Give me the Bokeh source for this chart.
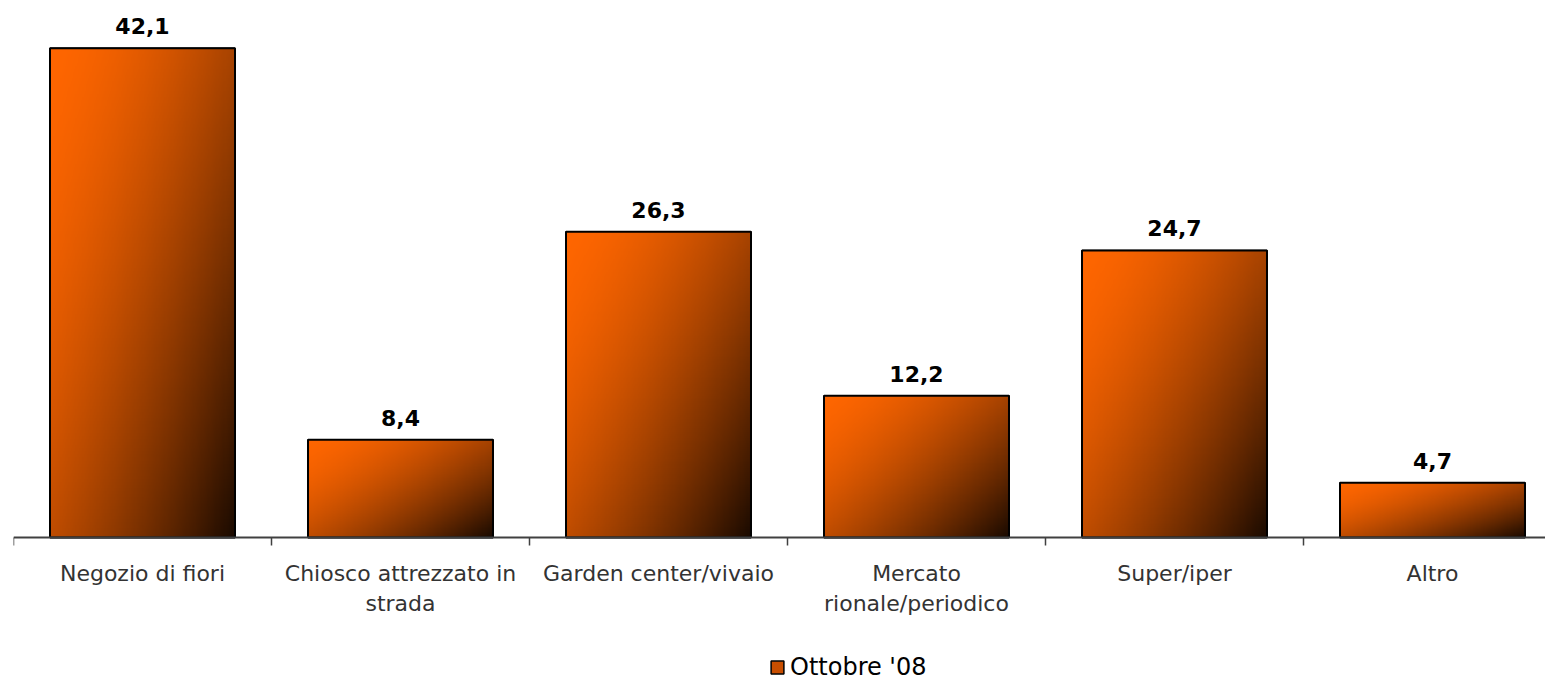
import numpy as np
from bokeh.plotting import figure
from bokeh.models import (Range1d, FixedTicker, LabelSet, ColumnDataSource,
                          Legend, LegendItem)
from bokeh.core.properties import value
from bokeh.embed import file_html
from bokeh.resources import INLINE

# ---- data ----
categories = ["Negozio di fiori", "Chiosco attrezzato in\nstrada", "Garden center/vivaio",
              "Mercato\nrionale/periodico", "Super/iper", "Altro"]
values = [42.1, 8.4, 26.3, 12.2, 24.7, 4.7]
series_name = "Ottobre '08"

xs = list(range(len(categories)))
labels = [f"{v:.1f}".replace(".", ",") for v in values]
BAR_W = 0.717

p = figure(width=1545, height=682, output_backend="svg", toolbar_location=None,
           x_range=Range1d(-0.5, 5.438), y_range=Range1d(-12.48, 45),
           y_axis_location=None, min_border_left=13, min_border_right=0,
           min_border_top=14, min_border_bottom=0)
p.outline_line_color = None
p.xgrid.visible = False
p.ygrid.visible = False
p.background_fill_color = "white"
p.border_fill_color = "white"

src = ColumnDataSource(dict(x=xs, top=values, label=labels))

# solid bars (used for the legend swatch; covered by the gradient images)
solid = p.vbar(x="x", top="top", width=BAR_W, source=src, fill_color="#c84e00",
               line_color="black", line_width=1.5)

# gradient images (diagonal orange -> near black)
def gradient(nx=160, ny=160):
    u = np.linspace(0, 1, nx)[None, :]
    v = np.linspace(1, 0, ny)[:, None]  # row 0 = bottom
    t = 0.55 * u + 0.45 * v
    f = 1 - 0.9 * t ** 1.6
    img = np.zeros((ny, nx), dtype=np.uint32)
    view = img.view(dtype=np.uint8).reshape((ny, nx, 4))
    view[:, :, 0] = np.clip(255 * f, 0, 255).astype(np.uint8)
    view[:, :, 1] = np.clip(102 * f, 0, 255).astype(np.uint8)
    view[:, :, 2] = 0
    view[:, :, 3] = 255
    return img

imgs = [gradient() for _ in values]
p.image_rgba(image=imgs, x=[x - BAR_W / 2 for x in xs], y=[0] * len(xs),
             dw=[BAR_W] * len(xs), dh=values)

p.vbar(x="x", top="top", width=BAR_W, source=src, fill_alpha=0,
       line_color="black", line_width=2)

p.add_layout(LabelSet(x="x", y="top", text="label", source=src, y_offset=14,
                      text_align="center", text_baseline="alphabetic",
                      text_font=value("DejaVu Sans"), text_font_style="bold",
                      text_font_size="22px", text_color="black"))

ax = p.xaxis[0]
ax.fixed_location = 0
ax.ticker = FixedTicker(ticks=xs, minor_ticks=[x - 0.5 for x in xs] + [xs[-1] + 0.5])
ax.major_label_overrides = {x: c for x, c in zip(xs, categories)}
ax.major_tick_out = 0
ax.major_tick_in = 0
ax.minor_tick_out = 8
ax.minor_tick_in = 0
ax.minor_tick_line_color = "#404040"
ax.minor_tick_line_width = 1.5
ax.axis_line_color = "#404040"
ax.axis_line_width = 2
ax.major_label_standoff = 16
ax.major_label_text_font = "DejaVu Sans"
ax.major_label_text_font_size = "22px"
ax.major_label_text_color = "#333333"

legend = Legend(items=[LegendItem(label=series_name, renderers=[solid])],
                location=(756, 1), padding=0, margin=0, spacing=0,
                glyph_width=16, glyph_height=16, label_standoff=5,
                label_text_font="DejaVu Sans", label_text_font_size="24px",
                label_text_color="black", border_line_color=None,
                background_fill_alpha=0)
p.add_layout(legend, "center")

open("out.html", "w").write(file_html(p, INLINE))
